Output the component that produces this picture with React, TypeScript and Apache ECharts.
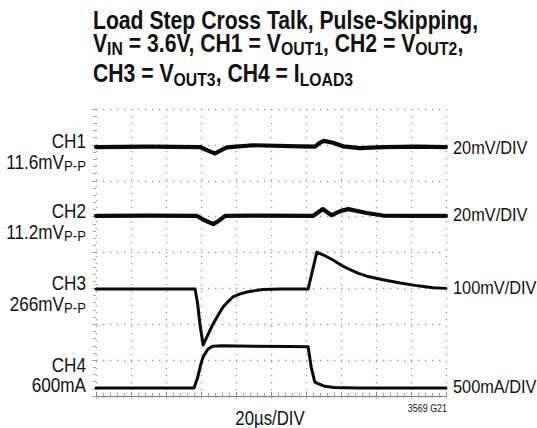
import React, { useEffect, useRef } from "react";
import * as echarts from "echarts";

// Time axis in divisions (20µs/DIV), vertical in screen divisions (0 = bottom)
const xDivisions = [0, 10];
const yDivisions = [0, 8];

const ch1: [number, number][] = [
  [0, 6.94], [1.5, 6.95], [2.97, 6.94], [3.2, 6.84], [3.4, 6.76], [3.55, 6.84], [3.74, 6.93],
  [4.49, 6.99], [5.83, 6.96], [6.26, 6.95], [6.4, 7.06], [6.51, 7.11], [6.77, 7.06],
  [7.06, 6.96], [7.54, 6.91], [8.2, 6.94], [9.2, 6.95], [10, 6.94],
];

const ch2: [number, number][] = [
  [0, 5.02], [1.5, 5.03], [2.88, 5.02], [3.1, 4.9], [3.35, 4.79], [3.5, 4.88], [3.69, 5.02],
  [4.5, 5.03], [6.2, 5.02], [6.48, 5.21], [6.73, 5.04], [7.0, 5.16], [7.21, 5.21],
  [7.73, 5.1], [8.2, 5.03], [9.2, 5.02], [10, 5.02],
];

const ch3: [number, number][] = [
  [0, 2.98], [2.83, 2.98], [2.9, 2.6], [2.97, 2.0], [3.06, 1.42], [3.2, 1.72], [3.34, 2.0],
  [3.5, 2.27], [3.63, 2.48], [3.77, 2.63], [3.91, 2.76], [4.1, 2.84], [4.31, 2.9],
  [4.77, 2.97], [5.3, 2.98], [6.06, 2.98], [6.31, 4.01], [6.5, 3.93], [6.77, 3.79],
  [7.0, 3.65], [7.26, 3.52], [7.5, 3.42], [7.74, 3.34], [8.2, 3.24], [8.69, 3.15],
  [9.2, 3.07], [9.63, 3.02], [10, 3.0],
];

const ch4: [number, number][] = [
  [0, 0.22], [2.8, 0.22], [2.9, 0.5], [3.0, 0.9], [3.06, 1.09], [3.2, 1.31], [3.34, 1.39],
  [3.6, 1.4], [4.5, 1.39], [5.5, 1.38], [6.06, 1.37], [6.15, 0.8], [6.25, 0.39],
  [6.5, 0.28], [6.8, 0.24], [7.5, 0.22], [10, 0.22],
];

const titleLines = [
  "Load Step Cross Talk, Pulse-Skipping,",
  "V{s|IN} = 3.6V, CH1 = V{s|OUT1}, CH2 = V{s|OUT2},",
  "CH3 = V{s|OUT3}, CH4 = I{s|LOAD3}",
];

const leftLabels = [
  ["CH1", "11.6mV{s|P-P}"],
  ["CH2", "11.2mV{s|P-P}"],
  ["CH3", "266mV{s|P-P}"],
  ["CH4", "600mA"],
];

const rightLabels = ["20mV/DIV", "20mV/DIV", "100mV/DIV", "500mA/DIV"];
const xAxisTitle = "20µs/DIV";
const figureCode = "3569 G21";

const FONT = '"Liberation Sans", Arial, sans-serif';
const NARROW = 0.83;

export default function App() {
  const ref = useRef<HTMLDivElement>(null);

  useEffect(() => {
    if (!ref.current) return;
    const chart = echarts.init(ref.current, null, { renderer: "svg" });

    const titleY = [20, 43, 73.5];
    const leftY = [[141, 162], [211, 232], [283, 304], [365, 385]];
    const rightY = [148, 215, 288, 387];

    const graphics: any[] = [];
    titleLines.forEach((t, i) => {
      graphics.push({
        type: "text",
        x: 93,
        y: titleY[i],
        scaleX: NARROW,
        style: {
          text: t,
          x: 0,
          y: 0,
          fill: "#111",
          fontFamily: FONT,
          fontSize: 25.5,
          fontWeight: "bold",
          lineHeight: 30,
          align: "left",
          verticalAlign: "middle",
          rich: {
            s: {
              fontFamily: FONT,
              fontSize: 19,
              fontWeight: "bold",
              lineHeight: 15,
              verticalAlign: "bottom",
              fill: "#111",
            },
          },
        },
      });
    });
    leftLabels.forEach((pair, i) => {
      pair.forEach((t, j) => {
        graphics.push({
          type: "text",
          x: 86,
          y: leftY[i][j],
          scaleX: 0.88,
          style: {
            text: t,
            x: 0,
            y: 0,
            fill: "#111",
            fontFamily: FONT,
            fontSize: 19.5,
            lineHeight: 22,
            align: "right",
            verticalAlign: "middle",
            rich: {
              s: {
                fontFamily: FONT,
                fontSize: 15,
                lineHeight: 14,
                verticalAlign: "bottom",
                fill: "#111",
              },
            },
          },
        });
      });
    });
    rightLabels.forEach((t, i) => {
      graphics.push({
        type: "text",
        x: 453,
        y: rightY[i],
        scaleX: 0.86,
        style: {
          text: t,
          x: 0,
          y: 0,
          fill: "#111",
          fontFamily: FONT,
          fontSize: 19,
          align: "left",
          verticalAlign: "middle",
        },
      });
    });
    graphics.push({
      type: "text",
      x: 270,
      y: 418,
      scaleX: 0.84,
      style: {
        text: xAxisTitle,
        x: 0,
        y: 0,
        fill: "#111",
        fontFamily: FONT,
        fontSize: 20,
        align: "center",
        verticalAlign: "middle",
      },
    });
    graphics.push({
      type: "text",
      x: 447,
      y: 408,
      scaleX: 0.85,
      style: {
        text: figureCode,
        x: 0,
        y: 0,
        fill: "#111",
        fontFamily: FONT,
        fontSize: 10.5,
        align: "right",
        verticalAlign: "middle",
      },
    });

    const dotted = { color: "#9a9a9a", width: 1.3, type: [1.3, 5.7] as number[] };
    const traceColor = "#0a0a0a";

    const mkSeries = (name: string, data: [number, number][], width: number) => ({
      name,
      type: "line",
      data,
      showSymbol: false,
      symbol: "none",
      lineStyle: { color: traceColor, width, join: "round", cap: "round" },
      z: 5,
    });

    chart.setOption({
      animation: false,
      backgroundColor: "#ffffff",
      grid: { left: 96, top: 109, width: 350, height: 287 },
      xAxis: [
        {
          type: "value",
          min: xDivisions[0],
          max: xDivisions[1],
          interval: 1,
          position: "bottom",
          axisLabel: { show: false },
          axisLine: { show: true, lineStyle: { color: "#777", width: 1 } },
          axisTick: { show: true, inside: true, length: 4, lineStyle: { color: "#888" } },
          minorTick: { show: true, splitNumber: 5, length: 3, lineStyle: { color: "#999" } },
          splitLine: { show: true, lineStyle: dotted },
        },
        {
          type: "value",
          min: xDivisions[0],
          max: xDivisions[1],
          interval: 1,
          position: "top",
          axisLabel: { show: false },
          axisLine: { show: false },
          axisTick: { show: true, inside: true, length: 3, lineStyle: { color: "#aaa" } },
          minorTick: { show: true, splitNumber: 5, length: 2, lineStyle: { color: "#aaa" } },
          splitLine: { show: false },
        },
      ],
      yAxis: [
        {
          type: "value",
          min: yDivisions[0],
          max: yDivisions[1],
          interval: 1,
          position: "left",
          axisLabel: { show: false },
          axisLine: { show: false },
          axisTick: { show: false },
          splitLine: { show: true, lineStyle: dotted },
        },
        {
          type: "value",
          min: yDivisions[0],
          max: yDivisions[1],
          interval: 1,
          position: "right",
          axisLabel: { show: false },
          axisLine: { show: false },
          axisTick: { show: true, inside: true, length: 4, lineStyle: { color: "#aaa" } },
          minorTick: { show: true, splitNumber: 5, length: 3, lineStyle: { color: "#aaa" } },
          splitLine: { show: false },
        },
      ],
      series: [
        mkSeries("CH1", ch1, 4.2),
        mkSeries("CH2", ch2, 4.2),
        mkSeries("CH3", ch3, 3),
        mkSeries("CH4", ch4, 3),
      ],
      graphic: graphics,
    });

    return () => chart.dispose();
  }, []);

  return (
    <div
      ref={ref}
      style={{ position: "absolute", left: 0, top: 0, width: 537, height: 428 }}
    />
  );
}
